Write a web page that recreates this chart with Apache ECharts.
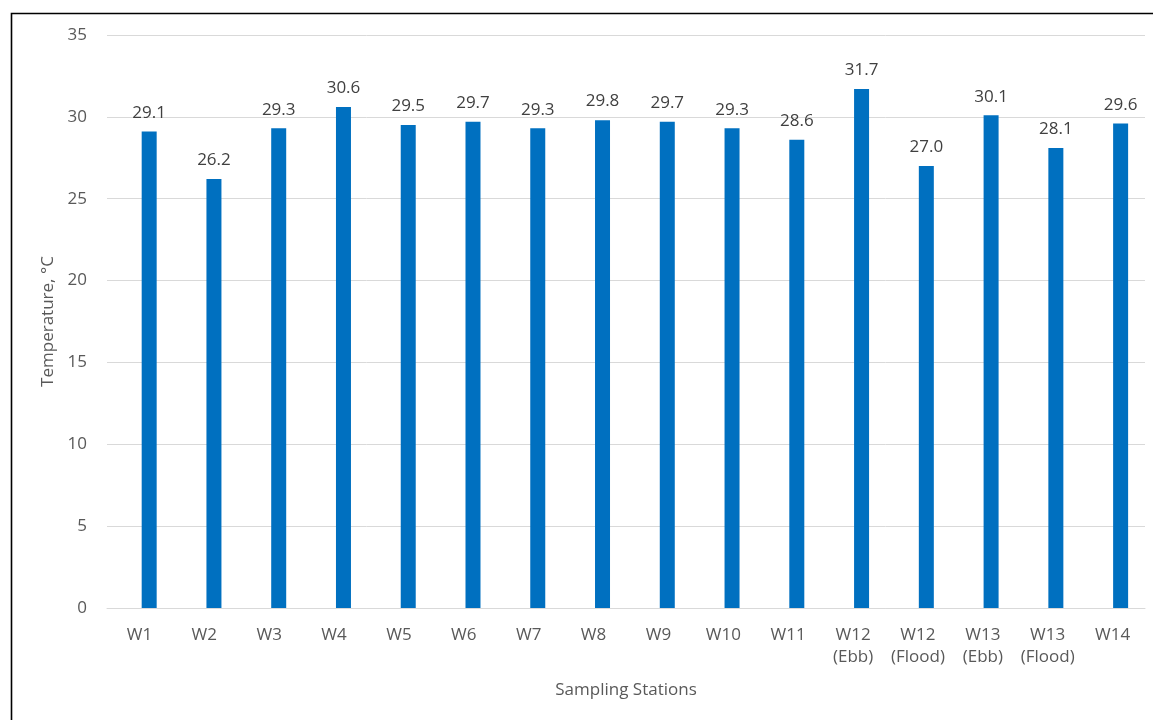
<!DOCTYPE html>
<html>
<head>
<meta charset="utf-8">
<style>
  html, body { margin: 0; padding: 0; background: #ffffff; }
  #chart { width: 1153px; height: 720px; }
</style>
<script src="https://cdn.jsdelivr.net/npm/echarts@6/dist/echarts.min.js"></script>
</head>
<body>
<div id="chart"></div>
<script>
// Sampling stations along the category axis
const stations = ['W1', 'W2', 'W3', 'W4', 'W5', 'W6', 'W7', 'W8', 'W9', 'W10', 'W11',
  'W12\n(Ebb)', 'W12\n(Flood)', 'W13\n(Ebb)', 'W13\n(Flood)', 'W14'];
// Water temperature at each station, °C
const temperatures = [29.1, 26.2, 29.3, 30.6, 29.5, 29.7, 29.3, 29.8, 29.7, 29.3, 28.6,
  31.7, 27.0, 30.1, 28.1, 29.6];
// Value axis range and step
const yMin = 0;
const yMax = 35;
const yStep = 5;

const FONT = '"Open Sans", "Noto Sans", sans-serif';
const AXIS_GREY = '#595959';
const GRID_GREY = '#d9d9d9';

const chart = echarts.init(document.getElementById('chart'), null, { renderer: 'canvas' });

chart.setOption({
  animation: false,
  backgroundColor: '#ffffff',
  textStyle: { fontFamily: FONT },
  graphic: [{
    type: 'rect',
    shape: { x: 11.5, y: 13.5, width: 1200, height: 800 },
    style: { fill: 'none', stroke: '#000000', lineWidth: 1.6 },
    silent: true,
    z: 100
  }],
  grid: [
    // axes, gridlines and category labels
    { left: 107, top: 35, right: 8, bottom: 112, containLabel: false },
    // bars
    { left: 116.8, top: 35, width: 1036.8, bottom: 112, containLabel: false }
  ],
  xAxis: [{
    gridIndex: 0,
    type: 'category',
    data: stations,
    boundaryGap: true,
    axisLine: { show: true, lineStyle: { color: GRID_GREY, width: 1 } },
    axisTick: { show: false },
    axisLabel: {
      color: AXIS_GREY, fontSize: 17, fontFamily: FONT, margin: 16,
      lineHeight: 22, interval: 0
    },
    name: 'Sampling Stations',
    nameLocation: 'middle',
    nameGap: 74,
    nameTextStyle: { color: AXIS_GREY, fontSize: 17, fontFamily: FONT }
  }, {
    gridIndex: 1,
    type: 'category',
    data: stations,
    boundaryGap: true,
    show: false
  }],
  yAxis: [{
    gridIndex: 0,
    type: 'value',
    min: yMin,
    max: yMax,
    interval: yStep,
    axisLine: { show: false },
    axisTick: { show: false },
    axisLabel: { color: AXIS_GREY, fontSize: 17, fontFamily: FONT, margin: 20 },
    splitLine: { show: true, lineStyle: { color: GRID_GREY, width: 1 } },
    name: 'Temperature, °C',
    nameLocation: 'middle',
    nameGap: 47,
    nameRotate: 90,
    nameTextStyle: { color: AXIS_GREY, fontSize: 17, fontFamily: FONT }
  }, {
    gridIndex: 1,
    type: 'value',
    min: yMin,
    max: yMax,
    interval: yStep,
    show: false,
    splitLine: { show: false }
  }],
  series: [{
    type: 'bar',
    xAxisIndex: 1,
    yAxisIndex: 1,
    data: temperatures,
    barWidth: 15,
    itemStyle: { color: '#0070c0' },
    label: {
      show: true,
      position: 'top',
      distance: 10,
      color: '#404040',
      fontSize: 17,
      fontFamily: FONT,
      formatter: p => Number(p.value).toFixed(1)
    }
  }]
});
</script>
</body>
</html>
